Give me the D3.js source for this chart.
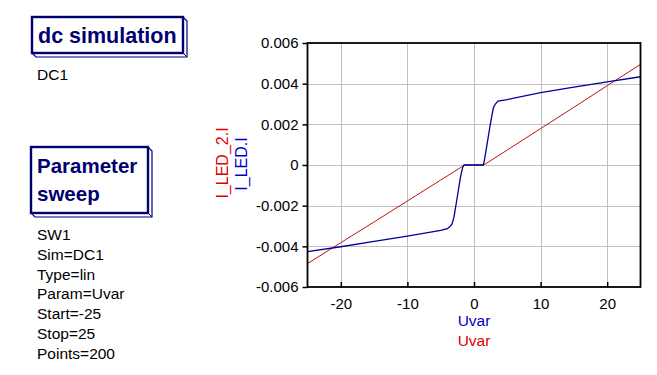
<!DOCTYPE html>
<html>
<head>
<meta charset="utf-8">
<script src="https://cdn.jsdelivr.net/npm/d3@7"></script>
<style>
	body { margin: 0; background: #fff; }
	svg text { font-family: "Liberation Sans", Arial, sans-serif; }
</style>
</head>
<body>
<div id="chart"></div>
<script>
// sweep values (Uvar) and currents
var uvar_blue = [-25, -20, -15, -10, -5, -4, -3.6, -3.3, -3, -2.5, -2, -1.7, -1.5,
	1.4, 1.6, 2, 2.5, 2.9, 3.2, 3.6, 5, 10, 15, 20, 25];
var i_led = [-0.00426, -0.00402, -0.00376, -0.00350, -0.00322, -0.00313, -0.00303, -0.00290, -0.00255, -0.00155, -0.00055, -0.00012, 0,
	0, 0.0003, 0.0011, 0.0021, 0.0028, 0.0030, 0.00314, 0.00322, 0.00356, 0.00383, 0.00409, 0.00434];

var uvar_red = [-25, -20, -15, -10, -5, -3, -2, -1.4, 1.4, 2, 3, 5, 10, 15, 20, 25];
var i_led_2 = [-0.00485, -0.00382, -0.00280, -0.00177, -0.00074, -0.00033, -0.00012, 0, 0, 0.00011, 0.00032, 0.00074, 0.00179, 0.00284, 0.0039, 0.00495];

var xTicks = [-20, -10, 0, 10, 20];
var yTicks = [-0.006, -0.004, -0.002, 0, 0.002, 0.004, 0.006];
var yTickLabels = ["-0.006", "-0.004", "-0.002", "0", "0.002", "0.004", "0.006"];

var simLines = ["DC1"];
var sweepLines = ["SW1", "Sim=DC1", "Type=lin", "Param=Uvar", "Start=-25", "Stop=25", "Points=200"];

(function () {
	var width = 657, height = 375;
	var navy = "#000070",
		color_blue = "#000099",
		color_red = "#c01010";

	var svg = d3.select("#chart").append("svg")
		.attr("width", width)
		.attr("height", height);

	// component boxes with the little 3d edge
	function box(x0, y0, w, h, lines, lineGap, fs) {
		var d = 4, x1 = x0 + w, y1 = y0 + h;
		svg.append("path")
			.attr("d", "M" + x1 + "," + y0 + "L" + (x1 + d) + "," + (y0 + d) + "L" + (x1 + d) + "," + (y1 + d) +
				"L" + (x0 + d) + "," + (y1 + d) + "L" + x0 + "," + y1 + "Z")
			.attr("fill", "#fff").attr("stroke", navy).attr("stroke-width", 1.2);
		svg.append("line").attr("x1", x1).attr("y1", y1).attr("x2", x1 + d).attr("y2", y1 + d)
			.attr("stroke", navy).attr("stroke-width", 1);
		svg.append("rect").attr("x", x0).attr("y", y0).attr("width", w).attr("height", h)
			.attr("fill", "#fff").attr("stroke", navy).attr("stroke-width", 2.4);
		lines.forEach(function (t, i) {
			svg.append("text").attr("x", x0 + 6).attr("y", y0 + 26 + i * lineGap)
				.attr("font-size", fs).attr("font-weight", "bold").attr("fill", navy).text(t);
		});
	}

	box(32, 17, 151, 36, ["dc simulation"], 0, 21.5);
	box(31, 147, 117, 66, ["Parameter", "sweep"], 28, 20.5);

	svg.selectAll(".simtxt").data(simLines).enter().append("text")
		.attr("class", "simtxt")
		.attr("x", 37).attr("y", function (d, i) { return 80 + i * 19.8; })
		.attr("font-size", 15.5).attr("fill", "#000").text(function (d) { return d; });

	svg.selectAll(".swtxt").data(sweepLines).enter().append("text")
		.attr("class", "swtxt")
		.attr("x", 37).attr("y", function (d, i) { return 240 + i * 19.8; })
		.attr("font-size", 15.5).attr("fill", "#000").text(function (d) { return d; });

	// plot area
	var left = 307.5, right = 640.5, top = 43, bottom = 287;
	var x = d3.scaleLinear().domain([-25, 25]).range([left, right]);
	var y = d3.scaleLinear().domain([-0.006, 0.006]).range([bottom, top]);

	var g = svg.append("g");

	g.selectAll(".gx").data(xTicks).enter().append("line").attr("class", "gx")
		.attr("x1", function (d) { return Math.round(x(d)) + 0.5; })
		.attr("x2", function (d) { return Math.round(x(d)) + 0.5; })
		.attr("y1", top).attr("y2", bottom)
		.attr("stroke", "#c0c0c0").attr("stroke-width", 1);
	g.selectAll(".gy").data(yTicks.slice(1, -1)).enter().append("line").attr("class", "gy")
		.attr("y1", function (d) { return Math.round(y(d)) + 0.5; })
		.attr("y2", function (d) { return Math.round(y(d)) + 0.5; })
		.attr("x1", left).attr("x2", right)
		.attr("stroke", "#c0c0c0").attr("stroke-width", 1);

	var line = d3.line()
		.x(function (d) { return x(d[0]); })
		.y(function (d) { return y(d[1]); });

	g.append("path").datum(d3.zip(uvar_red, i_led_2))
		.attr("d", line).attr("fill", "none")
		.attr("stroke", color_red).attr("stroke-width", 1);
	g.append("path").datum(d3.zip(uvar_blue, i_led))
		.attr("d", line).attr("fill", "none")
		.attr("stroke", color_blue).attr("stroke-width", 1.3);

	g.append("rect").attr("x", left).attr("y", top)
		.attr("width", right - left).attr("height", bottom - top)
		.attr("fill", "none").attr("stroke", "#000").attr("stroke-width", 1.8);

	// axes
	var yAxis = d3.axisLeft(y).tickValues(yTicks).tickSize(5).tickPadding(4)
		.tickFormat(function (d, i) { return yTickLabels[i]; });
	var ya = svg.append("g").attr("transform", "translate(" + left + ",0)").call(yAxis);
	ya.select(".domain").remove();
	ya.selectAll("line").attr("stroke-width", 1.5);
	ya.selectAll("text").attr("font-size", 15).attr("font-family", "Liberation Sans, Arial, sans-serif").attr("fill", "#000");

	var xAxis = d3.axisBottom(x).tickValues(xTicks).tickSize(-5).tickPadding(11)
		.tickFormat(function (d) { return d; });
	var xa = svg.append("g").attr("transform", "translate(0," + bottom + ")").call(xAxis);
	xa.select(".domain").remove();
	xa.selectAll("line").attr("stroke-width", 1.5);
	xa.selectAll("text").attr("font-size", 15).attr("font-family", "Liberation Sans, Arial, sans-serif").attr("fill", "#000");

	// axis titles
	svg.append("text").attr("x", x(0)).attr("y", 326).attr("text-anchor", "middle")
		.attr("font-size", 15.5).attr("fill", "#0000cc").text("Uvar");
	svg.append("text").attr("x", x(0)).attr("y", 346).attr("text-anchor", "middle")
		.attr("font-size", 15.5).attr("fill", "#dd0000").text("Uvar");

	svg.append("text").attr("transform", "translate(228,163) rotate(-90)")
		.attr("text-anchor", "middle").attr("font-size", 16).attr("fill", "#dd0000").text("I_LED_2.I");
	svg.append("text").attr("transform", "translate(247,164) rotate(-90)")
		.attr("text-anchor", "middle").attr("font-size", 16).attr("fill", "#0000cc").text("I_LED.I");
})();
</script>
</body>
</html>
